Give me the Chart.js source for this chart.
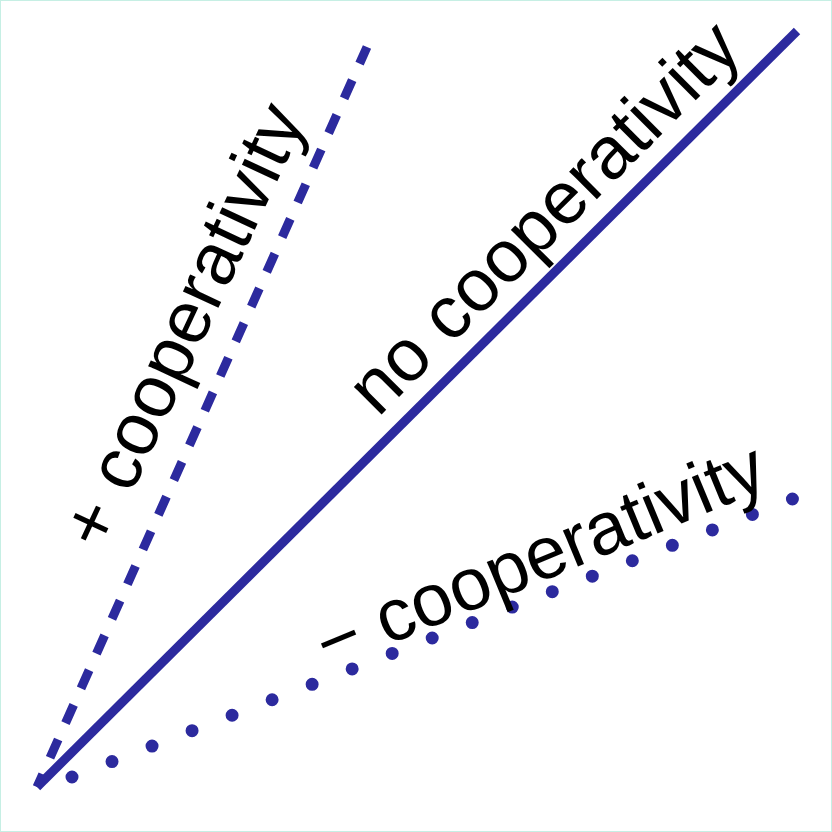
<!DOCTYPE html>
<html>
<head>
<meta charset="utf-8">
<title>Cooperativity</title>
<script src="https://cdn.jsdelivr.net/npm/chart.js@4.4.0/dist/chart.umd.min.js"></script>
<style>
  html, body { margin: 0; padding: 0; background: #fff; }
  #wrap { position: relative; width: 832px; height: 832px; }
  #wrap::after { content: ''; position: absolute; inset: 0; border: 1px solid #c6efe4; pointer-events: none; }
</style>
</head>
<body>
<div id="wrap"><canvas id="coopChart"></canvas></div>
<script>
// valores (origem comum no canto inferior esquerdo)
const noCoopX = [0, 760];
const noCoopY = [0, 756];
const posCoopX = [0, 330];
const posCoopY = [0, 740];
const negCoopX = [35, 758];
const negCoopY = [10, 289];

// rótulos: texto, posição (início da linha de base) e ângulo
const labelTexts = ['+ cooperativity', 'no cooperativity', '\u2212 cooperativity'];
const labelX = [67, 341, 291];
const labelY = [234, 369, 117];
const labelAngle = [-65, -45, -22.5];

const lineColor = '#2c2a9e';

function pts(xs, ys) {
    return xs.map((x, i) => ({ x: x, y: ys[i] }));
}

const labelPlugin = {
    id: 'coopLabels',
    afterDatasetsDraw(chart) {
        const ctx = chart.ctx;
        const sx = chart.scales.x, sy = chart.scales.y;
        ctx.save();
        ctx.fillStyle = '#000';
        ctx.font = '74px "Liberation Sans", Arial, sans-serif';
        ctx.textBaseline = 'alphabetic';
        ctx.textAlign = 'left';
        labelTexts.forEach((t, i) => {
            ctx.save();
            ctx.translate(sx.getPixelForValue(labelX[i]), sy.getPixelForValue(labelY[i]));
            ctx.rotate(labelAngle[i] * Math.PI / 180);
            ctx.fillText(t, 0, 0);
            ctx.restore();
        });
        ctx.restore();
    }
};

new Chart(document.getElementById('coopChart'), {
    type: 'scatter',
    data: {
        datasets: [
            {
                label: 'no cooperativity',
                data: pts(noCoopX, noCoopY),
                showLine: true,
                borderColor: lineColor,
                borderWidth: 9,
                borderCapStyle: 'butt',
                pointRadius: 0,
                clip: false
            },
            {
                label: '+ cooperativity',
                data: pts(posCoopX, posCoopY),
                showLine: true,
                borderColor: lineColor,
                borderWidth: 9,
                borderDash: [20, 18],
                borderDashOffset: 6,
                borderCapStyle: 'butt',
                pointRadius: 0,
                clip: false
            },
            {
                label: '- cooperativity',
                data: pts(negCoopX, negCoopY),
                showLine: true,
                borderColor: lineColor,
                borderWidth: 13,
                borderDash: [0, 42.9],
                borderCapStyle: 'round',
                pointRadius: 0,
                clip: false
            }
        ]
    },
    options: {
        responsive: true,
        maintainAspectRatio: false,
        animation: false,
        layout: { padding: 0 },
        plugins: {
            legend: { display: false },
            tooltip: { enabled: false }
        },
        scales: {
            x: { type: 'linear', min: -37, max: 795, display: false },
            y: { type: 'linear', min: -45, max: 787, display: false }
        }
    },
    plugins: [labelPlugin]
});
</script>
</body>
</html>
